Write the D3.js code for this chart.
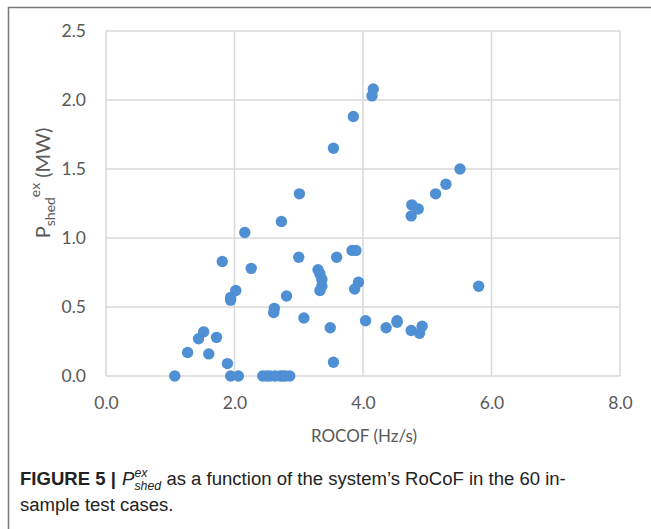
<!DOCTYPE html>
<html>
<head>
<meta charset="utf-8">
<script src="https://cdn.jsdelivr.net/npm/d3@7"></script>
<style>
  body { margin: 0; background: #fff; }
  svg { display: block; }
</style>
</head>
<body>
<svg id="chart" width="651" height="529"></svg>
<script>
"use strict";

// ROCOF (Hz/s) of each test case
const rocof = [
  4.16, 4.14, 3.85, 3.54, 5.51, 5.29, 5.13, 4.76, 4.86, 4.75,
  3.01, 2.73, 2.16, 1.81, 2.26, 3.00, 3.59, 3.83, 3.89, 3.30,
  3.33, 3.36, 3.36, 3.33, 3.93, 3.87, 5.80, 2.81, 2.02, 1.94,
  1.94, 2.62, 2.61, 3.08, 3.49, 3.54, 4.04, 4.36, 4.53, 4.53,
  4.75, 4.92, 4.88, 1.52, 1.44, 1.72, 1.27, 1.60, 1.89, 1.07,
  1.94, 2.06, 2.44, 2.50, 2.55, 2.63, 2.71, 2.75, 2.79, 2.86
];
// shed power (MW)
const pshed = [
  2.08, 2.03, 1.88, 1.65, 1.50, 1.39, 1.32, 1.24, 1.21, 1.16,
  1.32, 1.12, 1.04, 0.83, 0.78, 0.86, 0.86, 0.91, 0.91, 0.77,
  0.74, 0.70, 0.65, 0.62, 0.68, 0.63, 0.65, 0.58, 0.62, 0.57,
  0.55, 0.49, 0.46, 0.42, 0.35, 0.10, 0.40, 0.35, 0.40, 0.39,
  0.33, 0.36, 0.31, 0.32, 0.27, 0.28, 0.17, 0.16, 0.09, 0.00,
  0.00, 0.00, 0.00, 0.00, 0.00, 0.00, 0.00, 0.00, 0.00, 0.00
];
const xTicks = [0, 2, 4, 6, 8];
const yTicks = [0, 0.5, 1.0, 1.5, 2.0, 2.5];

const svg = d3.select("#chart");

// outer figure frame (top and left visible)
svg.append("path")
  .attr("d", "M8.5,529 V7.5 H651")
  .attr("fill", "none")
  .attr("stroke", "#7a7a7a")
  .attr("stroke-width", 1.5);

const plot = { left: 106, right: 620, top: 31, bottom: 376 };

const x = d3.scaleLinear().domain([0, 8]).range([plot.left, plot.right]);
const y = d3.scaleLinear().domain([0, 2.5]).range([plot.bottom, plot.top]);

const tickFont = "Lato, 'Open Sans', sans-serif";

// grid
const grid = svg.append("g").attr("stroke", "#d9d9d9").attr("stroke-width", 1.5);
grid.selectAll("line.v").data(xTicks).join("line")
  .attr("x1", d => x(d)).attr("x2", d => x(d))
  .attr("y1", plot.top).attr("y2", plot.bottom);
grid.selectAll("line.h").data(yTicks).join("line")
  .attr("x1", plot.left).attr("x2", plot.right)
  .attr("y1", d => y(d)).attr("y2", d => y(d));

// axes (labels only)
const xAxis = svg.append("g")
  .attr("transform", `translate(0,${plot.bottom})`)
  .call(d3.axisBottom(x).tickValues(xTicks).tickFormat(d3.format(".1f")).tickSize(0).tickPadding(21));
const yAxis = svg.append("g")
  .attr("transform", `translate(${plot.left},0)`)
  .call(d3.axisLeft(y).tickValues(yTicks).tickFormat(d3.format(".1f")).tickSize(0).tickPadding(20));
for (let ax of [xAxis, yAxis])
{
  ax.select(".domain").remove();
  ax.selectAll("text")
    .attr("fill", "#595959")
    .style("font-family", tickFont)
    .style("font-size", "17.5px");
}

// points
svg.append("g").attr("fill", "#4f8fd3")
  .selectAll("circle").data(rocof).join("circle")
  .attr("cx", d => x(d))
  .attr("cy", (d, i) => y(pshed[i]))
  .attr("r", 5.7);

// axis titles
svg.append("text")
  .attr("x", 364).attr("y", 442)
  .attr("text-anchor", "middle")
  .attr("fill", "#595959")
  .style("font-family", tickFont).style("font-size", "17px")
  .text("ROCOF (Hz/s)");

const ylab = svg.append("text")
  .attr("transform", "translate(50,183) rotate(-90)")
  .attr("text-anchor", "middle")
  .attr("fill", "#595959")
  .style("font-family", tickFont).style("font-size", "20px");
ylab.append("tspan").text("P");
ylab.append("tspan").attr("dy", 5).style("font-size", "14px").text("shed");
ylab.append("tspan").attr("dy", -15).style("font-size", "14px").text("ex");
ylab.append("tspan").attr("dy", 10).text(" (MW)");

// caption, laid out piece by piece then squeezed to the narrow width
const capFont = "'Liberation Sans', Arial, sans-serif";
const capG = svg.append("g").attr("fill", "#222")
  .style("font-family", capFont);
const line1 = capG.append("g");
let cx = 0;
function piece(g, txt, size, dy, style, weight)
{
  let t = g.append("text").attr("x", cx).attr("y", dy)
    .style("font-size", size + "px")
    .style("font-style", style || "normal")
    .style("font-weight", weight || "normal")
    .text(txt);
  return t.node().getComputedTextLength();
}
cx += piece(line1, "FIGURE 5 |", 18, 0, null, "bold") + 6;
cx += piece(line1, "P", 18, 0, "italic");
let subW = piece(line1, "shed", 12, 5, "italic");
piece(line1, "ex", 12, -8, "italic");
cx += subW + 5;
cx += piece(line1, "as a function of the system\u2019s RoCoF in the 60 in-", 18, 0);
const squeeze = 546 / cx;
line1.attr("transform", `translate(20,485) scale(${squeeze},1)`);
capG.append("text")
  .attr("transform", `translate(20,511) scale(${squeeze},1)`)
  .style("font-size", "18px")
  .text("sample test cases.");
</script>
</body>
</html>
